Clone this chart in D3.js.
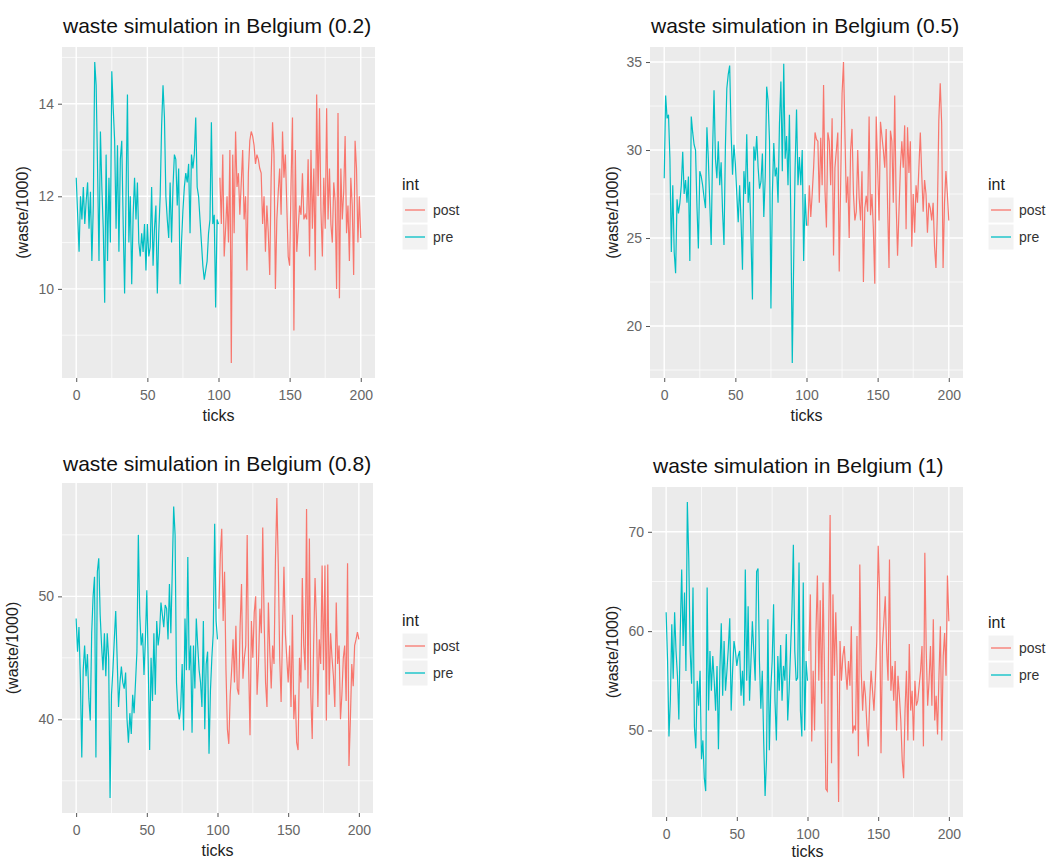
<html>
<head>
  <script src="https://cdn.jsdelivr.net/npm/d3@7"></script>
  <meta charset="UTF-8">
  <style>
  body {
    margin: 0;
    background: #fff;
    font-family: "Liberation Sans", Arial, sans-serif;
  }
  </style>
</head>
<body>
<div id="chart"></div>
<script>

// scenario labels and axis breaks
const scenarios = ['0.2', '0.5', '0.8', '1'];
const xBreaks = [0, 50, 100, 150, 200];
const xMinor = [25, 75, 125, 175];
const yBreaks = [[10, 12, 14], [20, 25, 30, 35], [40, 50], [50, 60, 70]];
const groups = ['post', 'pre'];

// waste/1000 per tick. pre = ticks 0..100, post = ticks 101..200
const pre02 = [12.4, 11.6, 10.8, 12.0, 11.5, 12.2, 11.4, 11.9, 12.3, 11.3, 12.1, 10.6, 11.8, 14.9, 14.4, 12.6, 10.6, 13.4, 12.2, 11.3,
  9.7, 12.9, 10.6, 12.4, 11.0, 14.7, 13.9, 13.2, 11.3, 13.1, 10.8, 12.8, 13.2, 11.4, 9.9, 12.0, 14.2, 11.0, 12.0, 10.1,
  11.6, 12.4, 11.5, 12.3, 11.0, 10.7, 11.2, 10.8, 11.4, 10.4, 11.4, 10.7, 10.9, 12.2, 10.5, 11.3, 11.8, 9.9, 11.2, 12.0,
  13.5, 14.4, 13.7, 12.0, 11.5, 11.1, 12.3, 11.0, 12.2, 12.9, 12.8, 11.8, 12.6, 10.1, 11.0, 11.7, 12.2, 12.5, 12.3, 12.7,
  11.2, 12.9, 12.6, 12.9, 13.7, 12.2, 12.0, 11.5, 11.0, 10.5, 10.2, 10.4, 10.6, 11.2, 11.5, 13.6, 11.4, 11.6, 9.6, 11.5, 11.4];
const post02 = [12.4, 11.4, 12.9, 10.7, 11.3, 12.0, 11.0, 13.0, 8.4, 12.9, 11.2, 13.4, 12.2, 12.5, 11.6, 12.3, 13.0, 11.5, 12.0, 10.4,
  12.5, 13.2, 13.4, 13.3, 13.1, 12.7, 12.9, 12.8, 12.6, 12.5, 11.4, 12.0, 10.8, 11.8, 11.2, 10.3, 12.4, 13.6, 12.9, 10.0,
  11.5, 12.1, 12.6, 11.6, 13.4, 12.4, 12.9, 11.8, 10.7, 10.5, 12.3, 13.7, 9.1, 13.0, 10.8, 11.3, 11.8, 11.6, 12.5, 11.5,
  11.6, 11.5, 12.8, 10.7, 13.0, 11.3, 12.6, 10.4, 14.2, 12.0, 13.9, 11.7, 10.7, 12.4, 11.3, 13.9, 11.5, 12.6, 11.4, 11.0,
  12.3, 11.9, 10.0, 13.8, 9.8, 12.6, 11.5, 12.1, 13.3, 11.2, 11.8, 10.6, 12.4, 11.8, 10.3, 13.2, 12.6, 11.0, 12.0, 11.1];

const pre05 = [28.4, 33.1, 31.8, 32.0, 29.5, 24.2, 28.0, 24.2, 23.0, 27.2, 26.4, 27.0, 28.0, 29.9, 27.5, 28.3, 27.0, 28.5, 23.7, 31.9,
  31.0, 30.3, 30.0, 26.8, 24.4, 28.8, 28.5, 28.0, 27.3, 26.7, 31.3, 29.5, 27.0, 24.6, 30.0, 33.4, 29.5, 28.4, 30.5, 28.0,
  29.3, 26.5, 24.6, 30.2, 33.5, 34.3, 34.8, 31.0, 28.6, 30.3, 29.2, 27.5, 25.9, 28.0, 26.0, 23.2, 28.8, 27.5, 30.9, 27.0,
  28.2, 25.0, 21.5, 30.2, 29.4, 30.8, 29.0, 27.8, 28.2, 29.8, 26.2, 28.5, 33.6, 32.8, 30.5, 21.0, 27.5, 30.4, 28.5, 29.0,
  27.0, 31.5, 33.9, 28.8, 34.9, 29.5, 30.8, 28.0, 32.0, 26.0, 17.9, 23.7, 29.0, 32.3, 28.0, 29.6, 28.0, 30.0, 23.7, 27.5, 25.7];
const post05 = [25.7, 28.0, 26.2, 27.5, 29.0, 31.0, 30.6, 30.5, 27.0, 30.7, 28.0, 33.7, 27.7, 25.6, 31.0, 30.5, 28.0, 31.8, 24.0, 29.0,
  30.0, 31.0, 23.1, 28.0, 33.2, 35.0, 31.0, 27.0, 28.5, 25.0, 30.0, 31.2, 27.5, 26.0, 26.5, 30.0, 27.3, 26.0, 28.8, 22.5,
  26.7, 27.4, 26.5, 31.9, 26.3, 27.5, 25.5, 22.4, 31.9, 29.0, 26.0, 31.6, 30.8, 30.0, 29.0, 31.2, 26.8, 23.3, 31.1, 30.5,
  27.0, 33.1, 27.0, 24.0, 26.5, 29.0, 30.5, 29.0, 31.4, 25.5, 31.3, 28.7, 30.5, 24.5, 27.5, 25.3, 28.0, 27.0, 29.0, 31.0,
  28.6, 26.5, 28.3, 27.5, 25.3, 27.0, 26.7, 26.0, 27.0, 24.5, 23.3, 26.5, 31.7, 33.8, 31.5, 23.3, 27.0, 28.8, 27.5, 26.0];

const pre08 = [48.2, 45.5, 47.5, 43.3, 36.9, 44.0, 46.0, 43.5, 45.3, 41.7, 39.9, 47.0, 50.0, 51.6, 36.9, 52.0, 53.1, 48.5, 46.0, 44.0,
  47.0, 43.5, 47.0, 45.0, 33.6, 42.0, 44.0, 46.5, 48.8, 45.0, 41.0, 43.0, 44.3, 43.0, 42.5, 43.8, 40.0, 38.1, 40.5, 38.8,
  42.0, 40.5, 43.0, 45.5, 55.0, 48.5, 46.0, 47.0, 43.6, 46.5, 50.5, 44.5, 37.5, 45.0, 41.5, 47.0, 42.0, 48.0, 46.0, 47.0,
  49.5, 48.5, 47.5, 49.3, 49.0, 46.5, 51.0, 47.0, 52.0, 57.3, 55.0, 43.0, 40.7, 40.0, 41.0, 44.5, 39.1, 48.2, 44.0, 53.2,
  44.0, 46.0, 38.9, 46.0, 42.5, 48.2, 46.0, 44.0, 43.0, 41.0, 48.0, 39.2, 44.5, 45.5, 37.2, 42.3, 45.0, 47.0, 55.9, 48.0, 46.5];
const post08 = [49.0, 53.4, 55.5, 48.0, 52.0, 44.0, 39.2, 38.0, 42.0, 44.0, 46.5, 43.0, 47.6, 42.5, 42.0, 47.6, 51.0, 43.3, 45.0, 46.0,
  55.0, 44.5, 38.7, 48.0, 45.0, 48.7, 50.0, 42.0, 44.5, 49.0, 47.0, 55.6, 48.0, 43.0, 41.0, 49.5, 45.5, 42.5, 46.0, 44.5,
  53.0, 58.0, 52.5, 45.0, 41.4, 47.0, 52.4, 47.0, 45.0, 43.0, 46.0, 41.0, 48.5, 40.0, 42.0, 38.1, 37.5, 45.0, 43.0, 51.5,
  46.0, 44.0, 57.1, 42.5, 54.7, 42.0, 38.4, 46.0, 51.5, 48.0, 41.0, 46.5, 44.5, 52.5, 44.0, 52.5, 39.9, 52.6, 42.0, 47.0,
  45.0, 43.5, 41.0, 49.5, 44.5, 46.0, 40.0, 42.0, 45.0, 46.0, 41.5, 52.7, 36.2, 40.0, 44.5, 42.7, 46.0, 46.5, 47.1, 46.5];

const pre1 = [61.9, 57.1, 49.4, 53.1, 60.7, 55.2, 61.9, 58.0, 55.5, 51.1, 60.0, 66.2, 58.5, 63.9, 56.0, 73.0, 67.4, 58.0, 54.7, 64.4,
  50.4, 48.2, 55.0, 52.5, 56.0, 47.1, 49.0, 45.2, 43.9, 64.4, 52.0, 58.0, 54.0, 57.5, 55.0, 52.0, 56.5, 48.1, 56.0, 60.8,
  53.5, 59.0, 54.0, 56.0, 58.3, 61.3, 52.0, 56.0, 59.0, 58.0, 56.5, 57.5, 58.0, 53.5, 56.0, 52.5, 66.2, 55.0, 62.5, 53.0,
  57.0, 61.0, 58.0, 55.0, 66.0, 66.3, 57.0, 52.2, 56.0, 49.0, 43.4, 47.1, 61.2, 48.0, 54.0, 57.0, 62.7, 53.0, 49.0, 57.5,
  54.0, 58.6, 53.0, 56.5, 55.0, 59.7, 51.0, 54.0, 58.0, 62.1, 68.7, 58.0, 55.0, 55.3, 66.9, 52.0, 49.4, 64.9, 50.0, 57.0, 55.0];
const post1 = [58.0, 63.7, 48.9, 56.0, 50.0, 60.0, 65.6, 55.0, 63.1, 52.7, 64.9, 56.0, 44.1, 43.9, 60.0, 71.7, 46.7, 63.7, 55.5, 61.9,
  56.0, 42.8, 59.0, 55.0, 57.5, 58.5, 56.0, 54.1, 57.0, 54.5, 60.5, 49.7, 50.5, 50.0, 59.5, 47.4, 66.7, 56.0, 52.0, 55.0,
  53.5, 50.5, 48.4, 53.0, 56.0, 54.0, 52.0, 55.0, 59.0, 68.6, 64.0, 47.7, 58.5, 61.0, 63.5, 58.0, 55.0, 67.2, 54.0, 56.5,
  53.0, 57.0, 50.0, 55.5, 53.5, 51.0, 47.0, 45.2, 52.0, 56.0, 49.0, 58.7, 52.0, 54.0, 49.0, 55.0, 52.5, 53.0, 54.5, 56.0,
  58.5, 48.4, 67.9, 58.0, 52.5, 55.0, 58.5, 52.5, 61.2, 51.0, 53.5, 49.6, 55.5, 60.5, 49.0, 57.5, 59.8, 55.5, 65.6, 61.0];

const preSeries = [pre02, pre05, pre08, pre1];
const postSeries = [post02, post05, post08, post1];

const colors = { post: '#F8766D', pre: '#00BFC4' };

// where each panel sits in the 1062x861 page
const boxes = [
  { l: 62,  t: 47,  r: 375, b: 378, titleY: 33,  yTitleX: 22,  xTitleDy: 43, legX: 402, legY: 190 },
  { l: 650, t: 47,  r: 963, b: 378, titleY: 33,  yTitleX: 612, xTitleDy: 43, legX: 988, legY: 190 },
  { l: 62,  t: 483, r: 373, b: 813, titleY: 471, yTitleX: 12,  xTitleDy: 43, legX: 402, legY: 626 },
  { l: 652, t: 487, r: 963, b: 817, titleY: 473, yTitleX: 612, xTitleDy: 40, legX: 988, legY: 628 }
];

const svg = d3.select('#chart').append('svg')
  .attr('width', 1062)
  .attr('height', 861);

scenarios.forEach((sc, k) => {
  const box = boxes[k];
  const pre = preSeries[k].map((v, i) => ({ tick: i, value: v }));
  const post = postSeries[k].map((v, i) => ({ tick: preSeries[k].length + i, value: v }));
  const all = pre.concat(post);

  const x = d3.scaleLinear().domain([-10, 210]).range([box.l, box.r]);
  const ext = d3.extent(all, d => d.value);
  const pad = (ext[1] - ext[0]) * 0.05;
  const y = d3.scaleLinear().domain([ext[0] - pad, ext[1] + pad]).range([box.b, box.t]);

  const g = svg.append('g');

  g.append('rect')
    .attr('x', box.l).attr('y', box.t)
    .attr('width', box.r - box.l).attr('height', box.b - box.t)
    .attr('fill', '#EBEBEB');

  // minor y breaks halfway between majors
  const br = yBreaks[k];
  const step = br[1] - br[0];
  const yMinor = d3.range(br[0] - step / 2, y.domain()[1], step).filter(v => v > y.domain()[0]);

  g.selectAll('.ymin').data(yMinor).join('line')
    .attr('x1', box.l).attr('x2', box.r)
    .attr('y1', d => y(d)).attr('y2', d => y(d))
    .attr('stroke', '#fff').attr('stroke-width', 0.7);
  g.selectAll('.xmin').data(xMinor).join('line')
    .attr('x1', d => x(d)).attr('x2', d => x(d))
    .attr('y1', box.t).attr('y2', box.b)
    .attr('stroke', '#fff').attr('stroke-width', 0.7);
  g.selectAll('.ymaj').data(br).join('line')
    .attr('x1', box.l).attr('x2', box.r)
    .attr('y1', d => y(d)).attr('y2', d => y(d))
    .attr('stroke', '#fff').attr('stroke-width', 1.4);
  g.selectAll('.xmaj').data(xBreaks).join('line')
    .attr('x1', d => x(d)).attr('x2', d => x(d))
    .attr('y1', box.t).attr('y2', box.b)
    .attr('stroke', '#fff').attr('stroke-width', 1.4);

  const line = d3.line().x(d => x(d.tick)).y(d => y(d.value));
  g.append('path').datum(post)
    .attr('d', line).attr('fill', 'none')
    .attr('stroke', colors.post).attr('stroke-width', 1.2);
  g.append('path').datum(pre)
    .attr('d', line).attr('fill', 'none')
    .attr('stroke', colors.pre).attr('stroke-width', 1.2);

  // axes
  const ax = g.append('g')
    .attr('transform', `translate(0,${box.b})`)
    .call(d3.axisBottom(x).tickValues(xBreaks).tickSize(4).tickPadding(8));
  const ay = g.append('g')
    .attr('transform', `translate(${box.l},0)`)
    .call(d3.axisLeft(y).tickValues(br).tickSize(4).tickPadding(4));
  [ax, ay].forEach(a => {
    a.select('.domain').remove();
    a.selectAll('line').attr('stroke', '#555');
    a.selectAll('text')
      .attr('fill', '#666')
      .style('font-size', '14px')
      .style('font-family', '"Liberation Sans", Arial, sans-serif');
  });

  g.append('text')
    .attr('x', box.l + 1).attr('y', box.titleY)
    .attr('fill', '#111')
    .style('font-size', '21px')
    .text(`waste simulation in Belgium (${sc})`);

  g.append('text')
    .attr('x', (box.l + box.r) / 2).attr('y', box.b + box.xTitleDy)
    .attr('text-anchor', 'middle')
    .attr('fill', '#222')
    .style('font-size', '16px')
    .text('ticks');

  g.append('text')
    .attr('transform', `translate(${box.yTitleX},${(box.t + box.b) / 2}) rotate(-90)`)
    .attr('text-anchor', 'middle')
    .attr('dy', '0.35em')
    .attr('fill', '#222')
    .style('font-size', '16px')
    .text('(waste/1000)');

  // legend
  const leg = g.append('g');
  leg.append('text')
    .attr('x', box.legX).attr('y', box.legY)
    .attr('fill', '#222')
    .style('font-size', '16px')
    .text('int');
  groups.forEach((grp, j) => {
    const ky = box.legY + 7 + j * 27;
    leg.append('rect')
      .attr('x', box.legX).attr('y', ky)
      .attr('width', 26).attr('height', 26)
      .attr('fill', '#F2F2F2').attr('stroke', '#fff').attr('stroke-width', 1);
    leg.append('line')
      .attr('x1', box.legX + 3).attr('x2', box.legX + 23)
      .attr('y1', ky + 13).attr('y2', ky + 13)
      .attr('stroke', colors[grp]).attr('stroke-width', 1.3);
    leg.append('text')
      .attr('x', box.legX + 31).attr('y', ky + 13)
      .attr('dy', '0.35em')
      .attr('fill', '#333')
      .style('font-size', '14px')
      .text(grp);
  });
});

</script>
</body>
</html>
